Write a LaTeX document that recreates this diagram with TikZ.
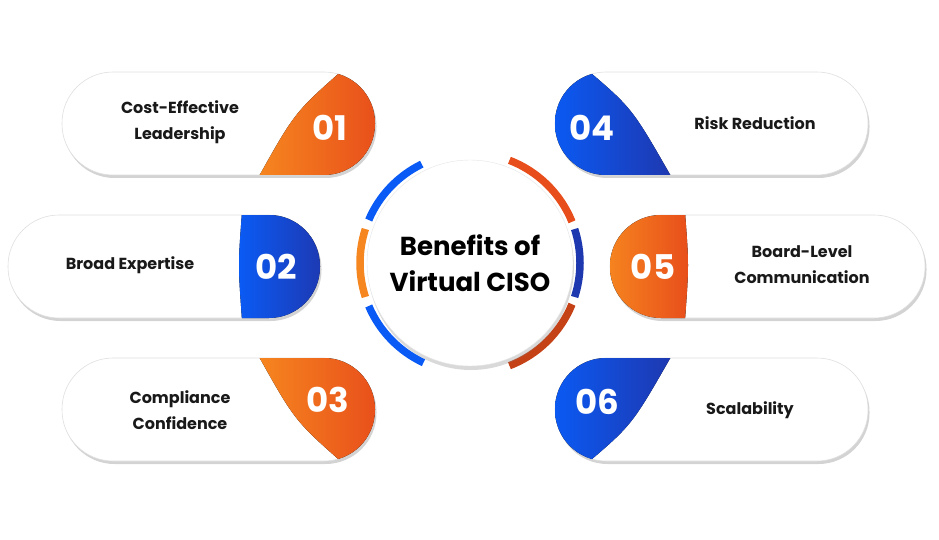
\documentclass[tikz,border=0pt]{standalone}
\usepackage{fontspec}
\setmainfont{Poppins}
\usetikzlibrary{shadows}
\definecolor{orangeL}{HTML}{F6861F}
\definecolor{orangeR}{HTML}{E84E1B}
\definecolor{blueL}{HTML}{0A5BF5}
\definecolor{blueR}{HTML}{1E38B0}
\begin{document}
\begin{tikzpicture}[x=1pt,y=-1pt,
		pill/.style={fill=white, draw=gray!25, line width=0.6pt,
		drop shadow={shadow xshift=1.5pt, shadow yshift=-3pt, opacity=0.35}},
		tab-orange/.style={left color=orangeL, right color=orangeR},
		tab-blue/.style={left color=blueL, right color=blueR},
		label/.style={font=\fontsize{16}{26}\selectfont\bfseries, align=center, text=black!90},
		number/.style={font=\fontsize{34}{38}\selectfont\bfseries, text=white},
		ring/.style={line width=7.5pt},
		]

		\useasboundingbox (0,0) rectangle (939,540);
		\def\pillpath#1#2#3{(#1,#2) rectangle (#3,#2+103)}

		% pills
		\foreach \xa/\ya/\xb in {62/72/375, 8/215/320, 62/358/375, 555/72/868, 610/215/925, 555/358/868}
		\draw[pill, rounded corners=51pt] \pillpath{\xa}{\ya}{\xb};

		% coloured tabs
		\begin{scope}
			\clip[rounded corners=51pt] \pillpath{62}{72}{375};
			\fill[tab-orange] (258,178) .. controls (295,112) .. (345,68) -- (380,68) -- (380,178) -- cycle;
		\end{scope}
		\begin{scope}
			\clip[rounded corners=51pt] \pillpath{8}{215}{320};
			\fill[tab-blue] (242,212) .. controls (238,265) .. (242,320) -- (325,320) -- (325,212) -- cycle;
		\end{scope}
		\begin{scope}
			\clip[rounded corners=51pt] \pillpath{62}{358}{375};
			\fill[tab-orange] (258,355) .. controls (295,421) .. (345,465) -- (380,465) -- (380,355) -- cycle;
		\end{scope}
		\begin{scope}
			\clip[rounded corners=51pt] \pillpath{555}{72}{868};
			\fill[tab-blue] (585,68) .. controls (632,108) .. (672,178) -- (550,178) -- (550,68) -- cycle;
		\end{scope}
		\begin{scope}
			\clip[rounded corners=51pt] \pillpath{610}{215}{925};
			\fill[tab-orange] (685,212) .. controls (689,265) .. (685,320) -- (605,320) -- (605,212) -- cycle;
		\end{scope}
		\begin{scope}
			\clip[rounded corners=51pt] \pillpath{555}{358}{868};
			\fill[tab-blue] (585,465) .. controls (632,425) .. (672,355) -- (550,355) -- (550,465) -- cycle;
		\end{scope}

		% centre
		\draw[ring, blueL]   ([shift={(470,263)}]-116:110) arc[start angle=-116, end angle=-157, radius=110];
		\draw[ring, orangeL] ([shift={(470,263)}]-162:110) arc[start angle=-162, end angle=-198, radius=110];
		\draw[ring, blueL]   ([shift={(470,263)}]-203:110) arc[start angle=-203, end angle=-245, radius=110];
		\draw[ring, orangeR] ([shift={(470,263)}]-69:110) arc[start angle=-69, end angle=-22, radius=110];
		\draw[ring, blueR]   ([shift={(470,263)}]-18:110) arc[start angle=-18, end angle=18, radius=110];
		\draw[ring, orangeR!85!black] ([shift={(470,263)}]22:110) arc[start angle=22, end angle=69, radius=110];
		\node[circle, minimum size=206pt, fill=white, draw=gray!20,
		drop shadow={shadow xshift=1pt, shadow yshift=-4pt, opacity=0.3}] (hub) at (470,263) {};
		\node[font=\fontsize{26}{36}\selectfont\bfseries, align=center] (title) at (hub) {Benefits of\\Virtual CISO};

		% texts
		\node[label] (cost) at (180,122) {Cost-Effective\\Leadership};
		\node[number] (n1) at (330,128) {01};
		\node[label] (broad) at (130,265) {Broad Expertise};
		\node[number] (n2) at (276,267) {02};
		\node[label] (comp) at (180,410) {Compliance\\Confidence};
		\node[number] (n3) at (328,400) {03};
		\node[number] (n4) at (592,128) {04};
		\node[label] (risk) at (755,123) {Risk Reduction};
		\node[number] (n5) at (653,267) {05};
		\node[label] (board) at (802,265) {Board-Level\\Communication};
		\node[number] (n6) at (597,402) {06};
		\node[label] (scale) at (750,410) {Scalability};
	\end{tikzpicture}
\end{document}
